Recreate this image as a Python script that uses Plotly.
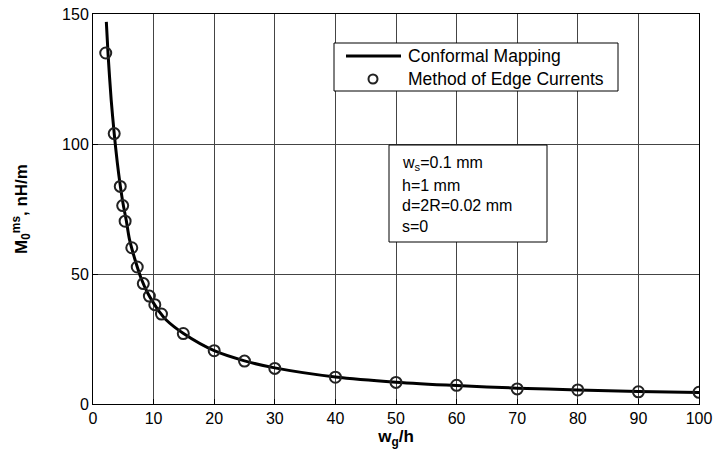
import plotly.graph_objects as go

# Conformal mapping curve
cm_x = [2.2, 2.5, 3, 3.5, 4, 4.5, 5, 5.5, 6, 7, 8, 9, 10, 11, 12, 15, 20, 25, 30, 40, 50, 60, 70, 80, 90, 100]
cm_y = [147, 134, 117, 104, 93, 84, 76.5, 70.5, 63.5, 55, 48, 42.8, 38.8, 35.3, 32.5, 27, 20.5, 16.6, 13.9, 10.4, 8.4, 7.1, 6.1, 5.4, 4.8, 4.4]

# Method of edge currents points
mec_x = [2.1, 3.5, 4.5, 4.9, 5.3, 6.4, 7.3, 8.3, 9.3, 10.2, 11.3, 14.9, 20, 25, 30, 40, 50, 60, 70, 80, 90, 100]
mec_y = [135, 104, 83.7, 76.3, 70.3, 60.1, 52.7, 46.3, 41.5, 38.2, 34.6, 27.1, 20.5, 16.5, 13.7, 10.3, 8.3, 7.2, 5.8, 5.4, 4.7, 4.5]

x_ticks = [0, 10, 20, 30, 40, 50, 60, 70, 80, 90, 100]
y_ticks = [0, 50, 100, 150]

series_names = ["Conformal Mapping", "Method of Edge Currents"]
param_lines = ["w<sub>s</sub>=0.1 mm", "h=1 mm", "d=2R=0.02 mm", "s=0"]

FONT = "Liberation Sans, Arial, sans-serif"

L, R, T, B = 93, 16, 14, 57
W, H = 715, 461
PW, PH = W - L - R, H - T - B


def px(xp):
    return (xp - L) / PW


def py(yp):
    return (H - B - yp) / PH


fig = go.Figure()
fig.add_trace(go.Scatter(
    x=cm_x, y=cm_y, mode="lines", name=series_names[0],
    line=dict(color="black", width=3, shape="spline", smoothing=0.8),
))
fig.add_trace(go.Scatter(
    x=mec_x, y=mec_y, mode="markers", name=series_names[1],
    marker=dict(symbol="circle-open", size=11, color="#222", line=dict(color="#222", width=2)),
))

axis_common = dict(
    showline=True, linecolor="black", linewidth=1, mirror=True,
    showgrid=True, gridcolor="#444", gridwidth=1,
    ticks="inside", ticklen=5, tickcolor="black",
    zeroline=False, automargin=False,
    tickfont=dict(family=FONT, size=16, color="black"),
)

fig.update_xaxes(range=[0, 100], tickvals=x_ticks, **axis_common,
                 title=dict(text="<b>w<sub>g</sub>/h</b>", font=dict(family=FONT, size=17, color="black"), standoff=2))
fig.update_yaxes(range=[0, 150], tickvals=y_ticks, **axis_common,
                 title=dict(text="<b>M<sub>0</sub><sup>ms</sup>, nH/m</b>", font=dict(family=FONT, size=17, color="black"), standoff=30))

# legend box (drawn to match the original's compact legend)
fig.add_shape(type="rect", xref="paper", yref="paper",
              x0=px(334), x1=px(618), y0=py(91), y1=py(43),
              line=dict(color="black", width=1), fillcolor="white", layer="above")
fig.add_shape(type="line", xref="paper", yref="paper",
              x0=px(346), x1=px(401), y0=py(56), y1=py(56),
              line=dict(color="black", width=3), layer="above")
fig.add_shape(type="circle", xref="paper", yref="paper",
              xsizemode="pixel", ysizemode="pixel",
              xanchor=px(373), yanchor=py(79), x0=-4.5, x1=4.5, y0=-4.5, y1=4.5,
              line=dict(color="#222", width=2), fillcolor="rgba(0,0,0,0)", layer="above")
for name, yc in zip(series_names, [56, 79]):
    fig.add_annotation(
        xref="paper", yref="paper", x=px(406), y=py(yc), xanchor="left", yanchor="middle",
        text=name, showarrow=False, align="left",
        font=dict(family=FONT, size=17.5, color="black"),
    )

# parameter box
fig.add_shape(type="rect", xref="paper", yref="paper",
              x0=px(389), x1=px(547), y0=py(242), y1=py(145),
              line=dict(color="black", width=1), fillcolor="white", layer="above")
line_centers = [163, 185, 205.5, 226]
for txt, yc in zip(param_lines, line_centers):
    fig.add_annotation(
        xref="paper", yref="paper", x=px(400), y=py(yc), xanchor="left", yanchor="middle",
        text=txt, showarrow=False, align="left",
        font=dict(family=FONT, size=16, color="black"),
    )

fig.update_layout(
    width=W, height=H,
    margin=dict(l=L, r=R, t=T, b=B),
    plot_bgcolor="white", paper_bgcolor="white",
    showlegend=False,
)

fig.write_html("out.html", config={"displayModeBar": False},
               post_script="document.body.style.margin='0';")
